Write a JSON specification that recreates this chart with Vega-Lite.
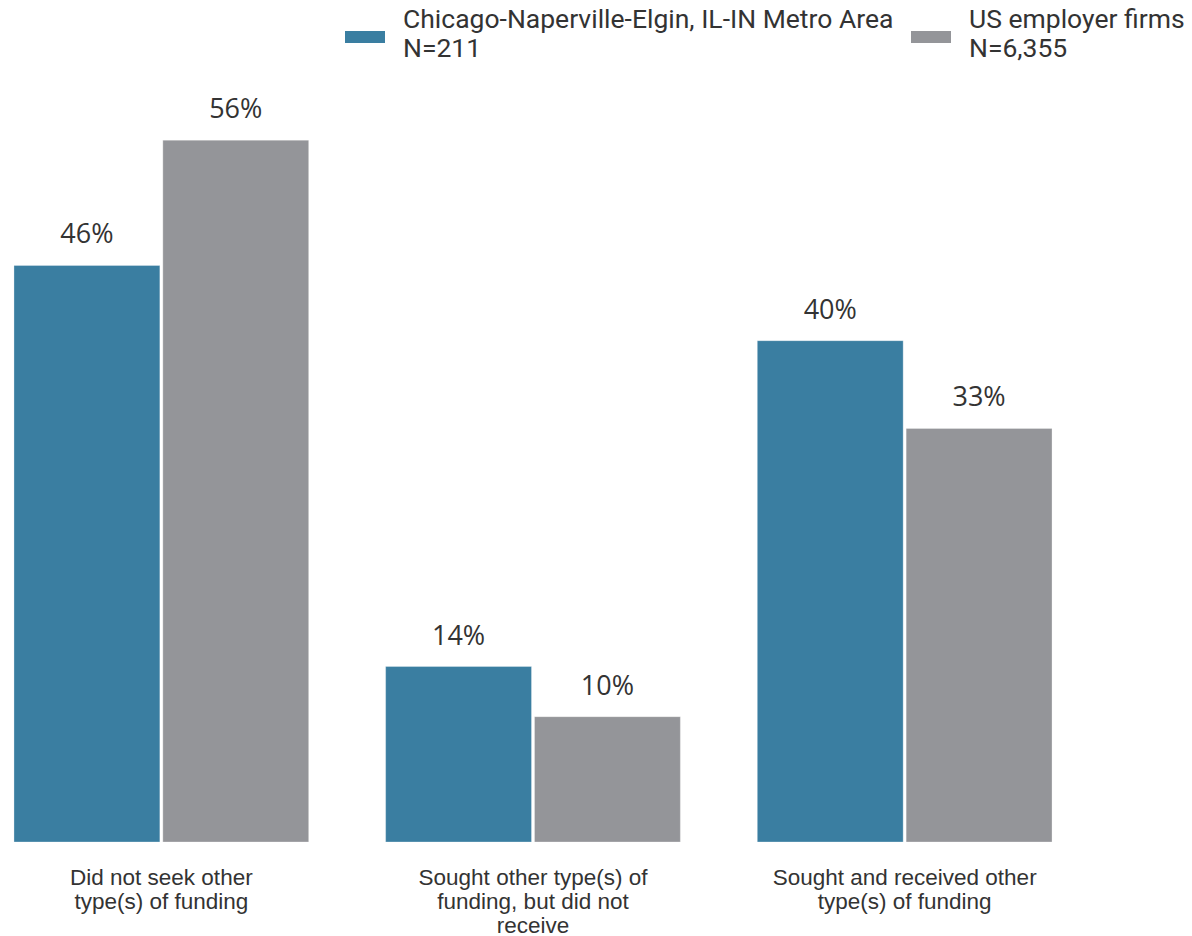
{
  "$schema": "https://vega.github.io/schema/vega-lite/v6.json",
  "autosize": {"type": "none"},
  "width": 1066,
  "height": 752,
  "padding": {"left": 0, "top": 90, "right": 126, "bottom": 94},
  "background": "white",
  "config": {"view": {"stroke": null}},
  "data": {"values": [
    {"cat": "Did not seek other\ntype(s) of funding", "series": "Chicago-Naperville-Elgin, IL-IN Metro Area\nN=211", "value": 0.46},
    {"cat": "Did not seek other\ntype(s) of funding", "series": "US employer firms\nN=6,355", "value": 0.56},
    {"cat": "Sought other type(s) of\nfunding, but did not\nreceive", "series": "Chicago-Naperville-Elgin, IL-IN Metro Area\nN=211", "value": 0.14},
    {"cat": "Sought other type(s) of\nfunding, but did not\nreceive", "series": "US employer firms\nN=6,355", "value": 0.10},
    {"cat": "Sought and received other\ntype(s) of funding", "series": "Chicago-Naperville-Elgin, IL-IN Metro Area\nN=211", "value": 0.40},
    {"cat": "Sought and received other\ntype(s) of funding", "series": "US employer firms\nN=6,355", "value": 0.33}
  ]},
  "encoding": {
    "x": {"field": "cat", "type": "nominal", "sort": null,
      "scale": {"paddingInner": 0.207, "paddingOuter": 0.0376},
      "axis": {"title": null, "domain": false, "ticks": false, "labelAngle": 0,
        "labelExpr": "split(datum.label, '\\n')", "labelFont": "Liberation Sans",
        "labelFontSize": 22.5, "labelColor": "#333333", "labelLineHeight": 24,
        "labelPadding": 24, "labelLimit": 400}},
    "xOffset": {"field": "series", "type": "nominal", "sort": null, "scale": {"paddingInner": 0.02}},
    "y": {"field": "value", "type": "quantitative", "scale": {"domain": [0, 0.6]}, "axis": null}
  },
  "layer": [
    {
      "mark": {"type": "bar", "stroke": "#ffffff", "strokeOpacity": 0.3, "strokeWidth": 1},
      "encoding": {
        "color": {"field": "series", "type": "nominal", "sort": null,
          "scale": {"range": ["#3A7EA1", "#949599"]},
          "legend": {"title": null, "orient": "none", "direction": "horizontal",
            "legendX": 345, "legendY": -90, "columns": 2, "columnPadding": 17,
            "symbolType": "M-1,0.55H1V1.15H-1Z", "symbolSize": 1600, "symbolStrokeWidth": 0,
            "labelFont": "Roboto", "labelFontSize": 26.5, "labelColor": "#333333",
            "labelExpr": "split(datum.label, '\\n')", "labelLimit": 600, "labelOffset": 18}}
      }
    },
    {
      "mark": {"type": "text", "dy": -22, "baseline": "alphabetic", "font": "Open Sans", "fontSize": 27, "color": "#333333"},
      "encoding": {"text": {"field": "value", "type": "quantitative", "format": ".0%"},
        "detail": {"field": "series"}}
    }
  ]
}
